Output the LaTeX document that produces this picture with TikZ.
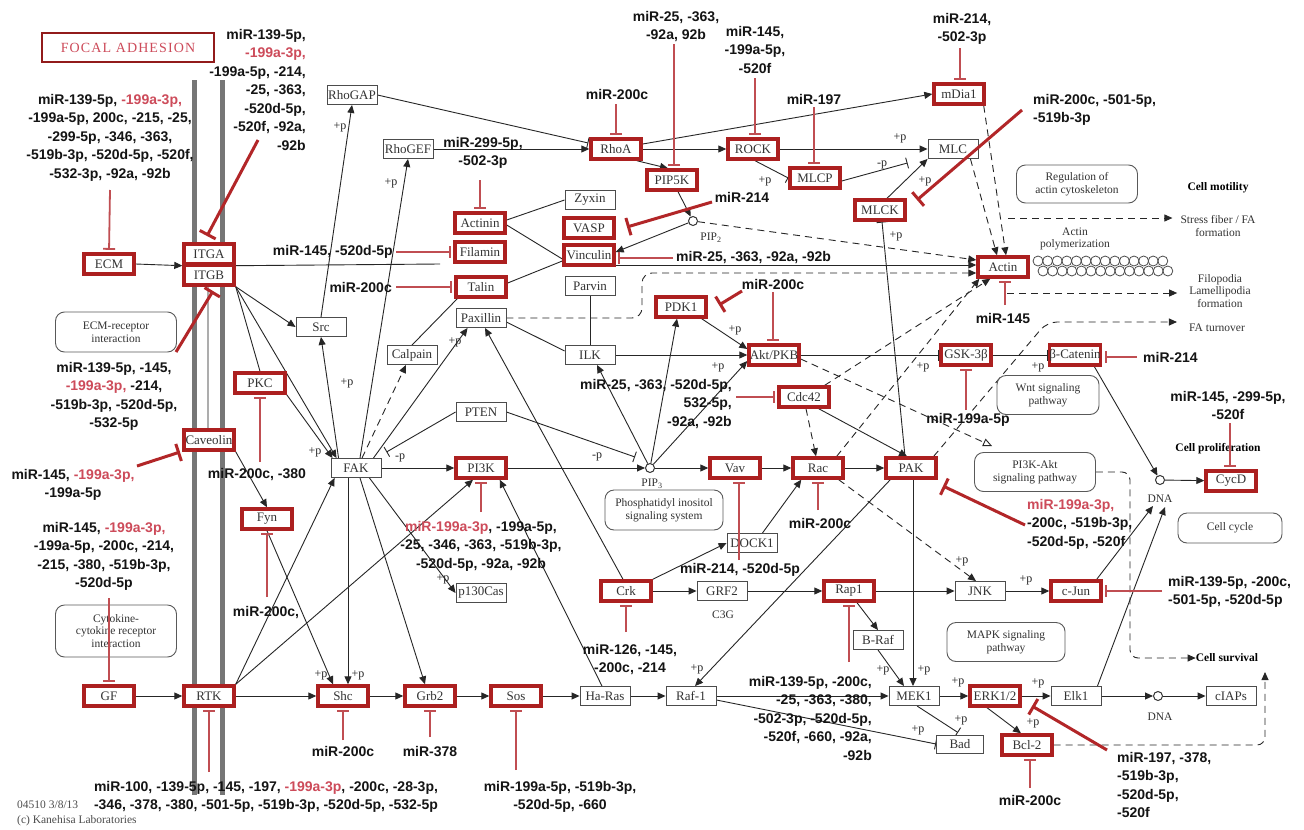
\documentclass[tikz,border=0pt]{standalone}
\usepackage{fontspec}
\setmainfont{Liberation Serif}
\setsansfont{Liberation Sans}
\usetikzlibrary{arrows.meta,calc}
\definecolor{kred}{RGB}{172,32,32}
\definecolor{ired}{RGB}{192,78,82}
\definecolor{dred}{RGB}{178,38,40}
\definecolor{rtxt}{RGB}{205,75,90}
\definecolor{gbar}{RGB}{118,118,118}
\newcommand{\rt}[1]{\textcolor{rtxt}{#1}}
\newcommand{\kgfont}{\fontsize{13}{13}\selectfont}
\newcommand{\kqfont}{\fontsize{12}{12}\selectfont}
\newcommand{\kmfont}{\sffamily\bfseries\fontsize{14}{18.5}\selectfont}
\newcommand{\kpfont}{\fontsize{11.5}{12.5}\selectfont}
\pgfdeclarelayer{bg}
\pgfsetlayers{bg,main}
\begin{document}
\begin{tikzpicture}[x=1pt,y=-1pt,
 gene/.style={draw=black!70, line width=0.9pt, fill=white, rectangle, minimum width=50pt, minimum height=19pt, inner sep=0pt, font=\kgfont, text=black!80},
 hit/.style={gene, draw=kred, line width=3.4pt, minimum height=20pt},
 mir/.style={font=\kmfont, align=center, inner sep=0pt, text=black!92},
 pw/.style={draw=black!65, line width=0.9pt, rounded corners=9pt, fill=white, align=center, inner sep=0pt, font=\kpfont, text=black!80},
 txt/.style={font=\kpfont, align=center, inner sep=0pt, text=black!80},
 btxt/.style={font=\kpfont\bfseries, inner sep=0pt, text=black},
 cpd/.style={circle, draw=black!80, line width=1pt, minimum size=9pt, inner sep=0pt, fill=white},
 ar/.style={draw=black!85, line width=0.9pt, -{Triangle[length=8pt,width=7pt]}},
 inb/.style={draw=black!85, line width=0.9pt, -{Bar[width=11pt]}},
 ln/.style={draw=black!85, line width=0.9pt},
 da/.style={ar, dash pattern=on 7pt off 5pt},
 dl/.style={ln, dash pattern=on 7pt off 5pt},
 ri/.style={draw=ired, line width=1.8pt, -{Bar[width=12pt]}, shorten >=2.5pt},
 rti/.style={draw=dred, line width=3pt, -{Bar[width=18pt]}},
 pp/.style={font=\kqfont, inner sep=0pt, text=black!85},
]
\useasboundingbox (0,0) rectangle (1304,830);

% ---------------- nodes ----------------
\node[draw=kred!85!black, line width=2.5pt, minimum width=172pt, minimum height=29pt, inner sep=0pt, text=rtxt, font=\fontsize{14}{14}\selectfont\addfontfeatures{LetterSpace=8}] (title) at (128,47.5) {FOCAL ADHESION};

\node[hit] (ECM) at (109,264) {ECM};
\node[hit] (ITGA) at (209,254) {ITGA};
\node[hit] (ITGB) at (209,275) {ITGB};
\node[gene] (RhoGAP) at (352,95) {RhoGAP};
\node[gene] (RhoGEF) at (408,149) {RhoGEF};
\node[hit] (RhoA) at (616,149) {RhoA};
\node[hit] (Actinin) at (480,223) {Actinin};
\node[hit] (Filamin) at (480,252) {Filamin};
\node[hit] (Talin) at (481,287) {Talin};
\node[gene] (Paxillin) at (481,318) {Paxillin};
\node[gene] (Zyxin) at (590,200) {Zyxin};
\node[hit] (VASP) at (589,228) {VASP};
\node[hit] (Vinculin) at (589,255) {Vinculin};
\node[gene] (Parvin) at (590,286) {Parvin};
\node[gene] (ILK) at (590,355) {ILK};
\node[gene] (Calpain) at (412,355) {Calpain};
\node[gene] (Src) at (321,327) {Src};
\node[hit] (PKC) at (260,383) {PKC};
\node[hit] (Caveolin) at (209,440) {Caveolin};
\node[hit] (Fyn) at (267,519) {Fyn};
\node[gene] (FAK) at (356,468) {FAK};
\node[gene] (PTEN) at (481,412) {PTEN};
\node[hit] (PI3K) at (481,468) {PI3K};
\node[hit] (PDK1) at (681,307) {PDK1};
\node[hit] (AktPKB) at (774,355) {Akt/PKB};
\node[hit] (Cdc42) at (804,397) {Cdc42};
\node[hit] (Vav) at (735,468) {Vav};
\node[hit] (Rac) at (818,468) {Rac};
\node[hit] (PAK) at (911,468) {PAK};
\node[gene] (DOCK1) at (752,543) {DOCK1};
\node[hit] (GSK) at (966,355) {GSK-3β};
\node[hit] (bCat) at (1075,355) {β-Catenin};
\node[hit] (CycD) at (1231,481) {CycD};
\node[hit] (Actin) at (1003,267) {Actin};
\node[hit] (mDia1) at (959,94) {mDia1};
\node[hit] (ROCK) at (753,149) {ROCK};
\node[hit] (MLCP) at (815,178) {MLCP};
\node[gene] (MLC) at (953,149) {MLC};
\node[hit] (MLCK) at (880,210) {MLCK};
\node[hit] (PIP5K) at (672,180) {PIP5K};
\node[hit] (Shc) at (343,696) {Shc};
\node[hit] (Grb2) at (430,696) {Grb2};
\node[hit] (Sos) at (516,696) {Sos};
\node[gene] (HaRas) at (605,696) {Ha-Ras};
\node[gene] (Raf1) at (691,696) {Raf-1};
\node[gene] (MEK1) at (914,696) {MEK1};
\node[hit] (ERK) at (995,696) {ERK1/2};
\node[gene] (Elk1) at (1076,696) {Elk1};
\node[gene] (cIAPs) at (1231,696) {cIAPs};
\node[hit] (GF) at (109,696) {GF};
\node[hit] (RTK) at (209,696) {RTK};
\node[hit] (Bcl2) at (1027,745) {Bcl-2};
\node[gene, minimum width=47pt, minimum height=18pt] (Bad) at (960,744) {Bad};
\node[gene] (JNK) at (980,591) {JNK};
\node[hit] (cJun) at (1076,591) {c-Jun};
\node[hit] (Rap1) at (849,591) {Rap1};
\node[gene] (BRaf) at (878,640) {B-Raf};
\node[gene] (GRF2) at (722,591) {GRF2};
\node[hit] (Crk) at (626,591) {Crk};
\node[gene] (p130Cas) at (481,593) {p130Cas};

\node[cpd] (PIP2) at (693,221) {};
\node[cpd] (PIP3) at (650,468) {};
\node[cpd] (DNAa) at (1160,480) {};
\node[cpd] (DNAb) at (1158,696) {};
\node[txt] (PIP2l) at (711,238) {PIP\textsubscript{2}};
\node[txt] (PIP3l) at (652,484) {PIP\textsubscript{3}};
\node[txt] (dnaA) at (1160,499) {DNA};
\node[txt] (dnaB) at (1160,717) {DNA};
\node[txt] (c3g) at (723,615) {C3G};

% pathway boxes
\node[pw, minimum width=121pt, minimum height=40pt] (ECMrec) at (116,332) {ECM-receptor\\interaction};
\node[pw, minimum width=121pt, minimum height=52pt] (CytRec) at (116,631) {Cytokine-\\cytokine receptor\\interaction};
\node[pw, minimum width=121pt, minimum height=38pt] (RegAct) at (1077,184) {Regulation of\\actin cytoskeleton};
\node[pw, minimum width=102pt, minimum height=39pt] (Wnt) at (1048,395) {Wnt signaling\\pathway};
\node[pw, minimum width=121pt, minimum height=39pt] (PI3KAkt) at (1035,472) {PI3K-Akt\\signaling pathway};
\node[pw, minimum width=118pt, minimum height=40pt] (PhosIno) at (664,510) {Phosphatidyl inositol\\signaling system};
\node[pw, minimum width=118pt, minimum height=39pt] (MAPK) at (1006,642) {MAPK signaling\\pathway};
\node[pw, minimum width=104pt, minimum height=30pt] (CellCyc) at (1230,528) {Cell cycle};

% outcome texts
\node[btxt] (motil) at (1218,188) {Cell motility};
\node[txt] (stress) at (1218,226) {Stress fiber / FA\\formation};
\node[txt] (actpol) at (1075,239) {Actin\\polymerization};
\node[txt] (filo) at (1220,291) {Filopodia\\Lamellipodia\\formation};
\node[txt] (faturn) at (1217,328) {FA turnover};
\node[btxt] (prolif) at (1218,449) {Cell proliferation};
\node[btxt] (surv) at (1227,658) {Cell survival};
\node[txt, anchor=west, text=black!70] (ver) at (17,805) {04510 3/8/13};
\node[txt, anchor=west, text=black!70] (copy) at (17,821) {(c) Kanehisa Laboratories};

% actin filament
\foreach \i in {0,...,13} {\draw[black!70, line width=0.8pt] (1038+\i*9.6,261) circle (5pt);}
\foreach \i in {0,...,13} {\draw[black!70, line width=0.8pt] (1043+\i*9.6,271) circle (5pt);}

% +p labels
\node[pp] (p1) at (340,127) {+p};
\node[pp] (p2) at (391,183) {+p};
\node[pp] (p3) at (347,383) {+p};
\node[pp] (p4) at (315,452) {+p};
\node[pp] (p5) at (455,342) {+p};
\node[pp] (p6) at (735,330) {+p};
\node[pp] (p7) at (718,367) {+p};
\node[pp] (p8) at (923,367) {+p};
\node[pp] (p9) at (1038,367) {+p};
\node[pp] (p10) at (900,138) {+p};
\node[pp] (p11) at (765,181) {+p};
\node[pp] (p12) at (882,165) {-p};
\node[pp] (p13) at (925,181) {+p};
\node[pp] (p14) at (896,236) {+p};
\node[pp] (p15) at (400,458) {-p};
\node[pp] (p16) at (597,457) {-p};
\node[pp] (p17) at (321,675) {+p};
\node[pp] (p18) at (358,675) {+p};
\node[pp] (p19) at (443,579) {+p};
\node[pp] (p20) at (697,669) {+p};
\node[pp] (p21) at (883,670) {+p};
\node[pp] (p22) at (924,670) {+p};
\node[pp] (p23) at (958,682) {+p};
\node[pp] (p24) at (918,730) {+p};
\node[pp] (p25) at (961,720) {+p};
\node[pp] (p26) at (1038,683) {+p};
\node[pp] (p27) at (1033,723) {+p};
\node[pp] (p28) at (1026,580) {+p};
\node[pp] (p29) at (962,561) {+p};

% ---------------- miRNA labels ----------------
\node[mir, anchor=north east, align=right] (LITGA) at (306,29) {miR-139-5p,\\\rt{-199a-3p,}\\-199a-5p, -214,\\-25, -363,\\-520d-5p,\\-520f, -92a,\\-92b};
\node[mir, anchor=north] (LECM) at (110,94) {miR-139-5p, \rt{-199a-3p,}\\-199a-5p, 200c, -215, -25,\\-299-5p, -346, -363,\\-519b-3p, -520d-5p, -520f,\\-532-3p, -92a, -92b};
\node[mir, anchor=north] (LITGB) at (114,362) {miR-139-5p, -145,\\\rt{-199a-3p,} -214,\\-519b-3p, -520d-5p,\\-532-5p};
\node[mir, anchor=north] (LCav) at (73,469) {miR-145, \rt{-199a-3p,}\\-199a-5p};
\node[mir, anchor=north] (LGF) at (104,522) {miR-145, \rt{-199a-3p,}\\-199a-5p, -200c, -214,\\-215, -380, -519b-3p,\\-520d-5p};
\node[mir] (LPKC) at (257,475) {miR-200c, -380};
\node[mir] (LFyn) at (266,613) {miR-200c,};
\node[mir, anchor=north] (LRTK) at (266,781) {miR-100, -139-5p, -145, -197, \rt{-199a-3p}, -200c, -28-3p,\\-346, -378, -380, -501-5p, -519b-3p, -520d-5p, -532-5p};
\node[mir] (LShc) at (343,751) {miR-200c};
\node[mir] (LGrb2) at (430,751) {miR-378};
\node[mir, anchor=north] (LSos) at (560,781) {miR-199a-5p, -519b-3p,\\-520d-5p, -660};
\node[mir, anchor=north] (LPI3K) at (481,521) {\rt{miR-199a-3p}, -199a-5p,\\-25, -346, -363, -519b-3p,\\-520d-5p, -92a, -92b};
\node[mir, anchor=east] (LFil) at (393,252) {miR-145, -520d-5p};
\node[mir, anchor=east] (LTal) at (392,287) {miR-200c};
\node[mir, anchor=north] (LAct) at (483,137) {miR-299-5p,\\-502-3p};
\node[mir] (LRhoA) at (617,94) {miR-200c};
\node[mir, anchor=north] (LPIP5K) at (676,11) {miR-25, -363,\\-92a, 92b};
\node[mir, anchor=north] (LROCK) at (755,26) {miR-145,\\-199a-5p,\\-520f};
\node[mir] (LMLCP) at (814,99) {miR-197};
\node[mir, anchor=north] (LmDia) at (962,13) {miR-214,\\-502-3p};
\node[mir, anchor=north west, align=left] (LMLCK) at (1033,94) {miR-200c, -501-5p,\\-519b-3p};
\node[mir] (LVASP) at (742,197) {miR-214};
\node[mir, anchor=west] (LVinc) at (676,258) {miR-25, -363, -92a, -92b};
\node[mir] (LPDK) at (773,284) {miR-200c};
\node[mir, anchor=north east, align=right] (LCdc) at (732,379) {miR-25, -363, -520d-5p,\\532-5p,\\-92a, -92b};
\node[mir] (LGSK) at (968,420) {miR-199a-5p};
\node[mir, anchor=west] (LbCat) at (1143,357) {miR-214};
\node[mir, anchor=north] (LCycD) at (1228,391) {miR-145, -299-5p,\\-520f};
\node[mir, anchor=north west, align=left] (LPAK) at (1027,499) {\rt{miR-199a-3p,}\\-200c, -519b-3p,\\-520d-5p, -520f};
\node[mir] (LActin) at (1003,318) {miR-145};
\node[mir] (LRac) at (820,523) {miR-200c};
\node[mir] (LVav) at (740,570) {miR-214, -520d-5p};
\node[mir, anchor=north] (LCrk) at (630,644) {miR-126, -145,\\-200c, -214};
\node[mir, anchor=north east, align=right] (LRap1) at (872,676) {miR-139-5p, -200c,\\-25, -363, -380,\\-502-3p, -520d-5p,\\-520f, -660, -92a,\\-92b};
\node[mir, anchor=north west, align=left] (LcJun) at (1168,576) {miR-139-5p, -200c,\\-501-5p, -520d-5p};
\node[mir, anchor=north west, align=left] (LERK) at (1117,752) {miR-197, -378,\\-519b-3p,\\-520d-5p,\\-520f};
\node[mir] (LBcl2) at (1030,800) {miR-200c};

% ---------------- black connectors (background) ----------------
\begin{pgfonlayer}{bg}
\fill[white] (0,0) rectangle (1304,830);
\draw[gbar, line width=5pt] (194,80) -- (194,795);
\draw[gbar, line width=5pt] (222,80) -- (222,795);
\draw[gbar!60, line width=2pt] (208,285) -- (208,430);

\draw[ar] (ECM.east) -- (ITGA.south west);
\draw[ln] (ITGA.south east) -- (440,264);
\draw[ar] (ITGB.south east) -- (Src.west);
\draw[ln] (ITGB.south east) -- (PKC.north);
\draw[ar] (ITGB.south east) -- ($(FAK.north west)+(6,0)$);
\draw[ar] (PKC.south east) -- ($(FAK.north west)+(2,0)$);
\draw[ar] (Caveolin.south east) -- (Fyn.north);
\draw[ar] (Fyn.south) -- ($(Shc.north)+(-10,0)$);
\draw[ar] ($(FAK.south)+(-8,0)$) -- ($(Shc.north)+(5,0)$);
\draw[ar] ($(FAK.south)+(4,0)$) -- ($(Grb2.north)+(-5,0)$);
\draw[ar] ($(FAK.south east)+(-12,0)$) -- (p130Cas.west);
\draw[ar] (RTK.north east) -- ($(FAK.south west)+(4,0)$);
\draw[ar] (RTK.north east) -- ($(PI3K.south)+(-8,0)$);
\draw[ar] (GF) -- (RTK);
\draw[ar] (RTK) -- (Shc);
\draw[ar] (Shc) -- (Grb2);
\draw[ar] (Grb2) -- (Sos);
\draw[ar] (Sos) -- (HaRas);
\draw[ar] (HaRas) -- (Raf1);
\draw[ar] (Raf1) -- (MEK1);
\draw[ar] (MEK1) -- (ERK);
\draw[ar] (ERK) -- (Elk1);
\draw[ar] (Elk1) -- (DNAb);
\draw[ar] (DNAb) -- (cIAPs);
\draw[ar] ($(HaRas.north)+(-3,0)$) -- ($(PI3K.south east)+(-8,0)$);
\draw[ar] ($(Crk.north)+(-3,0)$) -- ($(Paxillin.south)+(4,0)$);
\draw[ar] ($(FAK.north west)+(8,0)$) -- (Src.south);
\draw[ar] (Src.north) -- (RhoGAP.south);
\draw[ar] ($(FAK.north)+(4,0)$) -- (RhoGEF.south);
\draw[da] ($(FAK.north)+(6,0)$) -- ($(Calpain.south)+(-6,0)$);
\draw[ar] ($(FAK.north east)+(-8,0)$) -- ($(Paxillin.south west)+(12,0)$);
\draw[ln] (Calpain.north) -- ($(Talin.south west)+(3,0)$);
\draw[inb] (RhoGAP.east) -- ($(RhoA.west)+(-1,-6)$);
\draw[ar] (RhoGEF) -- (RhoA);
\draw[ar] (RhoA) -- (ROCK);
\draw[ar] ($(RhoA.east)+(0,-5)$) -- (mDia1.west);
\draw[ar] ($(RhoA.south east)+(-6,0)$) -- ($(PIP5K.north)+(-4,0)$);
\draw[inb] ($(ROCK.south)+(2,0)$) -- (MLCP.west);
\draw[ar] (ROCK) -- (MLC);
\draw[inb] ($(MLCP.east)+(0,3)$) -- ($(MLC.south west)+(-20,4)$);
\draw[ar] ($(MLCK.north)+(7,0)$) -- (MLC.south west);
\draw[inb] ($(PAK.north)+(-6,0)$) -- ($(MLCK.south)+(2,0)$);
\draw[da] ($(mDia1.south east)+(-2,0)$) -- ($(Actin.north)+(3,0)$);
\draw[da] ($(MLC.south east)+(-8,0)$) -- ($(Actin.north)+(-6,0)$);
\draw[ar] ($(PIP5K.south)+(6,0)$) -- (PIP2);
\draw[ar] (PIP2) -- ($(Vinculin.east)+(0,-3)$);
\draw[da] (PIP2) -- ($(Actin.west)+(0,-7)$);
\draw[ar] ($(Vinculin.east)+(0,10)$) -- ($(Actin.west)+(0,-2)$);
\draw[da, rounded corners=10pt] (Paxillin.east) -- (642,318) -- (642,273) -- ($(Actin.west)+(0,6)$);
\draw[ln] ($(Actinin.east)+(0,-3)$) -- (Zyxin.west);
\draw[ln] ($(Actinin.east)+(0,2)$) -- ($(Vinculin.west)+(0,4)$);
\draw[ln] ($(Talin.east)+(0,-4)$) -- ($(Vinculin.west)+(0,6)$);
\draw[ln] (Parvin.south) -- (ILK.north);
\draw[ln] ($(ILK.west)+(0,-4)$) -- ($(Paxillin.east)+(0,4)$);
\draw[ar] (ILK) -- (AktPKB);
\draw[ar] (PIP3) -- ($(ILK.south)+(7,0)$);
\draw[ar] (PIP3) -- ($(PDK1.south)+(-4,0)$);
\draw[ar] (PIP3) -- ($(AktPKB.west)+(0,6)$);
\draw[ar] ($(PDK1.south east)+(-6,0)$) -- ($(AktPKB.west)+(0,-6)$);
\draw[inb] (PTEN.west) -- ($(FAK.north east)+(5,-6)$);
\draw[inb] (PTEN.east) -- ($(PIP3)+(-15,-11)$);
\draw[ar] (FAK) -- (PI3K);
\draw[ar] (PI3K) -- (PIP3);
\draw[ar] (PIP3) -- (Vav);
\draw[ar] (Vav) -- (Rac);
\draw[ar] (Rac) -- (PAK);
\draw[da] ($(Cdc42.south)+(2,0)$) -- ($(Rac.north)+(-2,0)$);
\draw[ar] ($(Cdc42.south east)+(-12,0)$) -- ($(PAK.north)+(-4,0)$);
\draw[ar] ($(DOCK1.north east)+(-15,0)$) -- ($(Rac.south west)+(10,0)$);
\draw[ar] (Crk.north east) -- (DOCK1.west);
\draw[ar] (Crk) -- (GRF2);
\draw[ar] (GRF2) -- (Rap1);
\draw[ar] (Rap1) -- (JNK);
\draw[ar] ($(Rap1.south)+(8,0)$) -- (BRaf.north);
\draw[ar] (BRaf.south) -- ($(MEK1.north)+(-10,0)$);
\draw[ar] ($(PAK.south)+(2,0)$) -- ($(MEK1.north)+(-1,0)$);
\draw[ar] ($(PAK.south west)+(6,0)$) -- ($(Raf1.north)+(4,0)$);
\draw[da] ($(Rac.south east)+(-6,0)$) -- ($(JNK.north)+(-4,0)$);
\draw[ar] (JNK) -- (cJun);
\draw[inb] (AktPKB) -- (GSK);
\draw[inb] (GSK) -- (bCat);
\draw[ar] ($(bCat.south east)+(-8,0)$) -- (DNAa);
\draw[ar] (DNAa) -- (CycD);
\draw[ar] ($(cJun.north east)+(-6,0)$) -- ($(dnaA.south)+(-7,3)$);
\draw[ar] ($(Elk1.north east)+(-4,0)$) -- ($(dnaA.south)+(5,4)$);
\draw[dl, -{Triangle[open,length=9pt,width=8pt]}] ($(AktPKB.east)+(0,4)$) -- ($(PI3KAkt.north west)+(18,-6)$);
\draw[inb] ($(Raf1.east)+(0,4)$) -- (Bad.west);
\draw[inb] ($(MEK1.south)+(3,0)$) -- ($(Bad.north)+(-2,-2)$);
\draw[ar] ($(ERK.south)+(-8,0)$) -- ($(Bcl2.north)+(-6,0)$);
\draw[da, rounded corners=8pt] (Bcl2.east) -- (1265,745) -- (1265,672);
\draw[da, rounded corners=8pt] (PI3KAkt.east) -- (1130,472) -- (1130,658) -- (surv.west);
\draw[da] ($(Rac.north east)+(-8,0)$) -- ($(Actin.south west)+(3,0)$);
\draw[da] ($(Cdc42.north east)+(-6,0)$) -- ($(Actin.south west)+(14,0)$);
\draw[da, rounded corners=10pt] ($(PAK.north east)+(-4,0)$) -- (1047,322) -- ($(faturn.west)+(-12,-6)$);
\draw[da] (1008,218) -- ($(stress.west)+(-8,-8)$);
\draw[da] (1007,293) -- ($(filo.west)+(-12,2)$);
\end{pgfonlayer}

% ---------------- red inhibitions ----------------
\draw[ri] (110,190) -- (ECM.north);
\draw[ri] (260,462) -- (PKC.south);
\draw[ri] (267,597) -- (Fyn.south);
\draw[ri] (209,772) -- (RTK.south);
\draw[ri] (343,740) -- (Shc.south);
\draw[ri] (430,737) -- (Grb2.south);
\draw[ri] (516,770) -- (Sos.south);
\draw[ri] (481,512) -- (PI3K.south);
\draw[ri] (396,252) -- (Filamin.west);
\draw[ri] (396,287) -- (Talin.west);
\draw[ri] (480,180) -- (Actinin.north);
\draw[ri] (616,104) -- (RhoA.north);
\draw[ri] (674,44) -- ($(PIP5K.north)+(2,0)$);
\draw[ri] (755,78) -- ($(ROCK.north)+(2,0)$);
\draw[ri] (814,107) -- ($(MLCP.north)+(-1,0)$);
\draw[ri] (960,48) -- ($(mDia1.north)+(1,0)$);
\draw[ri] (673,258) -- ($(Vinculin.east)+(0,3)$);
\draw[ri] (773,292) -- ($(AktPKB.north)+(-1,0)$);
\draw[ri] (736,397) -- (Cdc42.west);
\draw[ri] (966,410) -- (GSK.south);
\draw[ri] (1137,357) -- ($(bCat.east)+(0,2)$);
\draw[ri] (1230,423) -- ($(CycD.north)+(-1,0)$);
\draw[ri] (1005,305) -- ($(Actin.south)+(2,0)$);
\draw[ri] (818,510) -- (Rac.south);
\draw[ri] (739,560) -- ($(Vav.south)+(4,0)$);
\draw[ri] (626,632) -- (Crk.south);
\draw[ri] (849,662) -- (Rap1.south);
\draw[ri] (1162,591) -- (cJun.east);
\draw[ri] (1030,788) -- ($(Bcl2.south)+(3,0)$);
\draw[ri] (109,598) -- (GF.north);
\draw[rti] (258,140) -- (207,236);
\draw[rti] (176,352) -- (213,291);
\draw[rti] (137,466) -- (180,452);
\draw[rti] (1022,110) -- (917,200);
\draw[rti] (712,202) -- (627,227);
\draw[rti] (742,291) -- (719,305);
\draw[rti] (1025,525) -- (943,486);
\draw[rti] (1107,750) -- (1032,706);
\end{tikzpicture}
\end{document}
